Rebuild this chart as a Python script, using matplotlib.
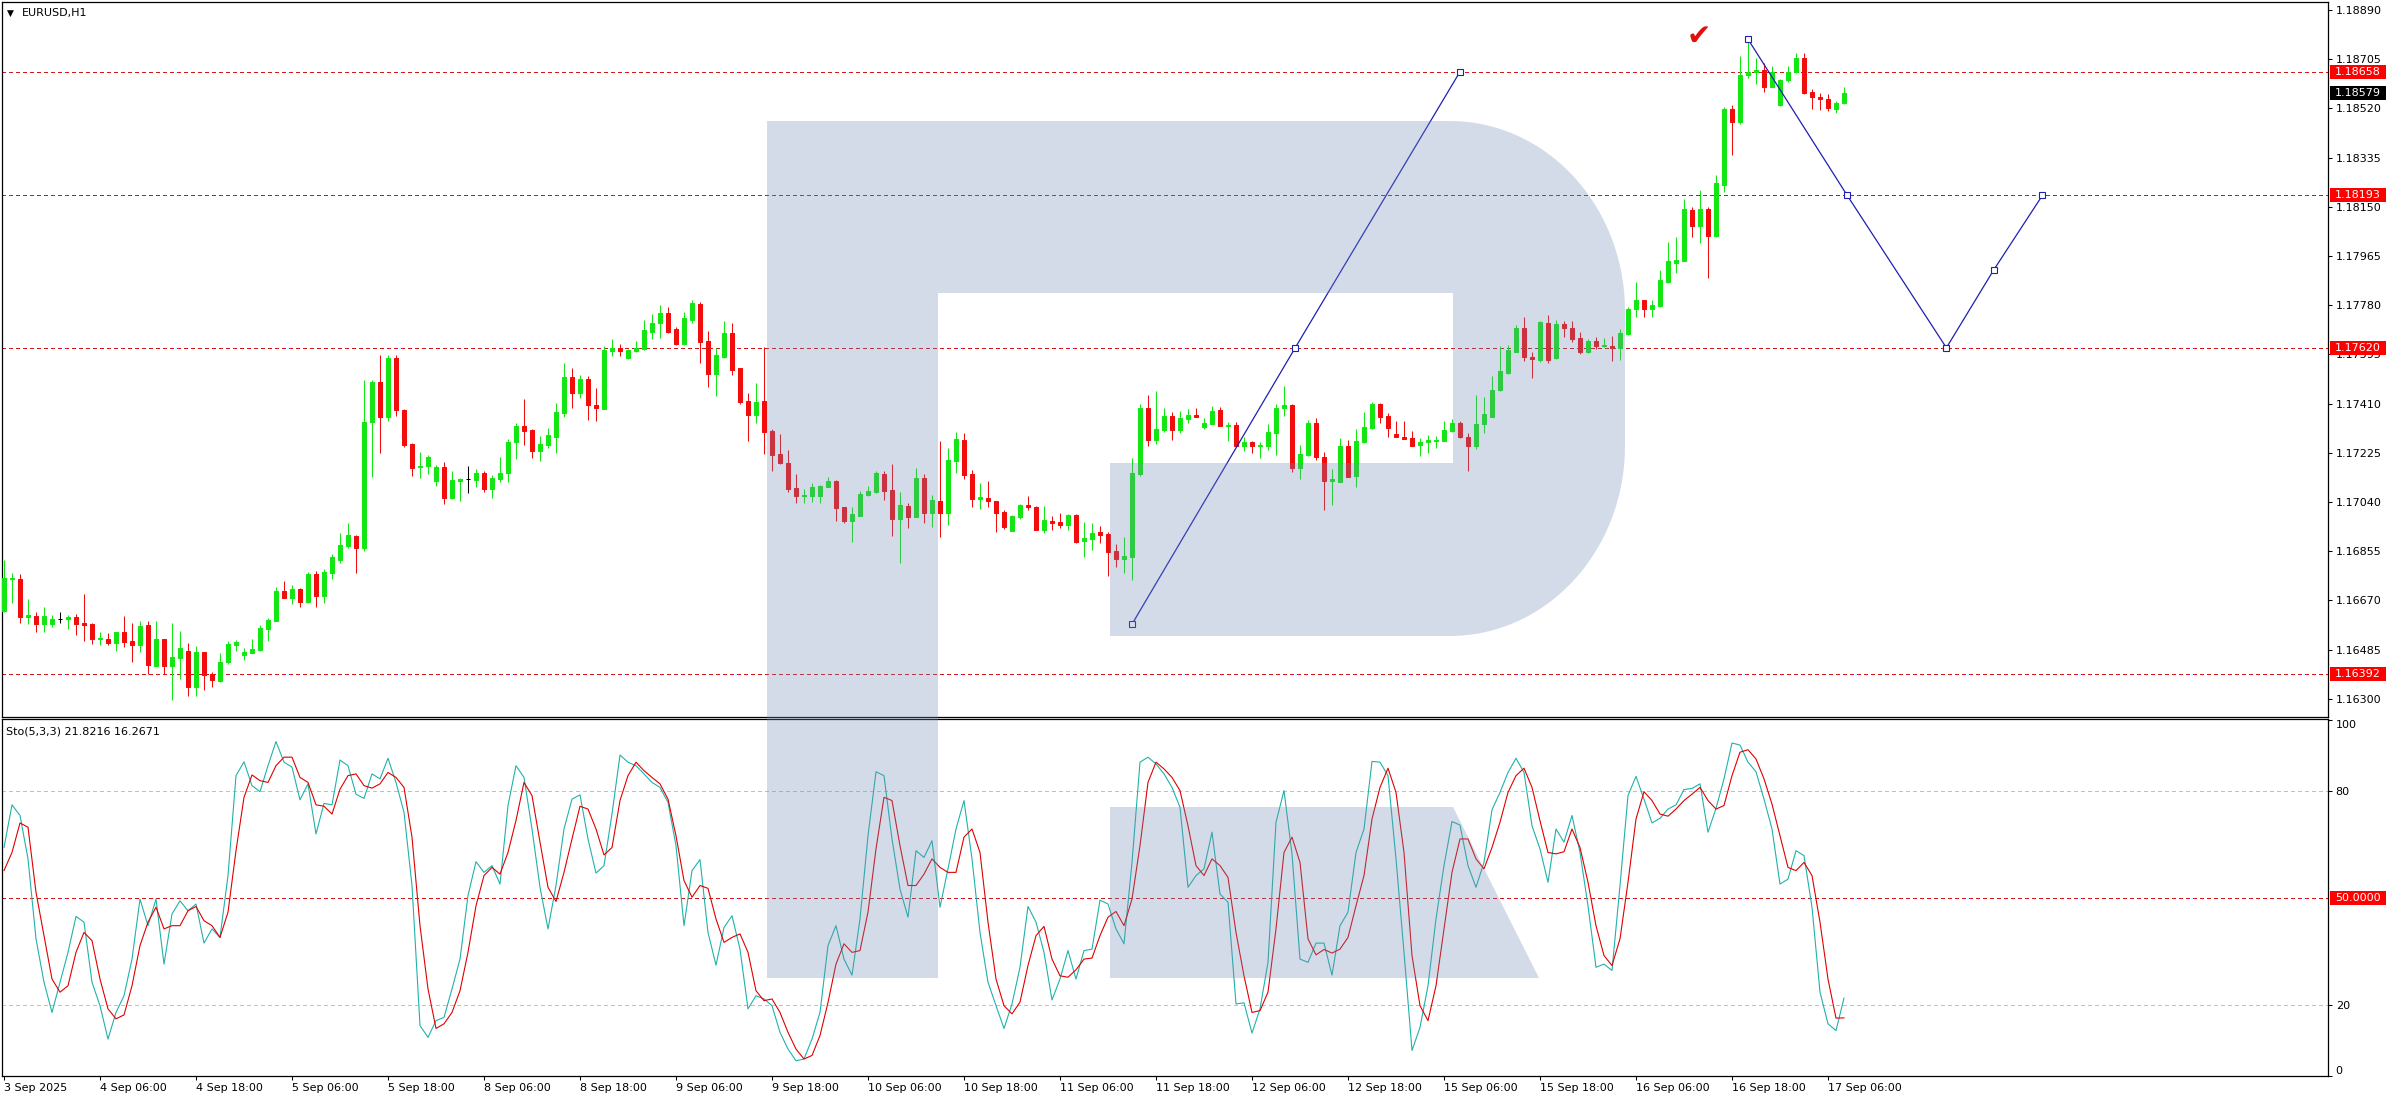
import numpy as np
import matplotlib.pyplot as plt
import matplotlib.transforms as mtransforms
from matplotlib.patches import Rectangle, Polygon

W, H = 2392, 1100

# EURUSD H1 candles, 3 Sep 18:00 .. 17 Sep 08:00
opens = [
    1.16631, 1.16749, 1.16750, 1.16609, 1.16612, 1.16580, 1.16581, 1.16599, 1.16599, 1.16607,
    1.16584, 1.16581, 1.16525, 1.16527, 1.16512, 1.16550, 1.16517, 1.16504, 1.16577, 1.16424,
    1.16525, 1.16424, 1.16454, 1.16479, 1.16343, 1.16476, 1.16394, 1.16367, 1.16437, 1.16504,
    1.16466, 1.16473, 1.16483, 1.16562, 1.16594, 1.16705, 1.16680, 1.16713, 1.16665, 1.16768,
    1.16688, 1.16774, 1.16824, 1.16876, 1.16912, 1.16866, 1.17341, 1.17490, 1.17358, 1.17583,
    1.17386, 1.17258, 1.17170, 1.17177, 1.17120, 1.17173, 1.17054, 1.17120, 1.17125, 1.17123,
    1.17151, 1.17089, 1.17127, 1.17151, 1.17264, 1.17326, 1.17311, 1.17233, 1.17255, 1.17286,
    1.17376, 1.17509, 1.17449, 1.17503, 1.17405, 1.17391, 1.17609, 1.17621, 1.17583, 1.17608,
    1.17616, 1.17681, 1.17712, 1.17752, 1.17690, 1.17634, 1.17725, 1.17785, 1.17646, 1.17522,
    1.17587, 1.17677, 1.17543, 1.17420, 1.17368, 1.17420, 1.17309, 1.17221, 1.17188, 1.17092,
    1.17061, 1.17061, 1.17061, 1.17098, 1.17119, 1.17020, 1.16967, 1.16989, 1.17067, 1.17076,
    1.17146, 1.17086, 1.16977, 1.17025, 1.16985, 1.17130, 1.17000, 1.17044, 1.17000, 1.17195,
    1.17273, 1.17146, 1.17053, 1.17057, 1.17044, 1.17003, 1.16933, 1.16985, 1.17029, 1.17023,
    1.16935, 1.16969, 1.16966, 1.16954, 1.16992, 1.16894, 1.16901, 1.16929, 1.16919, 1.16856,
    1.16826, 1.16835, 1.17146, 1.17392, 1.17273, 1.17311, 1.17364, 1.17311, 1.17351, 1.17367,
    1.17324, 1.17334, 1.17386, 1.17326, 1.17330, 1.17252, 1.17265, 1.17251, 1.17252, 1.17301,
    1.17392, 1.17405, 1.17169, 1.17217, 1.17339, 1.17208, 1.17121, 1.17117, 1.17251, 1.17138,
    1.17267, 1.17317, 1.17409, 1.17364, 1.17296, 1.17286, 1.17280, 1.17255, 1.17264, 1.17270,
    1.17271, 1.17309, 1.17339, 1.17284, 1.17249, 1.17334, 1.17361, 1.17462, 1.17524, 1.17606,
    1.17696, 1.17585, 1.17575, 1.17715, 1.17581, 1.17710, 1.17696, 1.17656, 1.17606, 1.17647,
    1.17625, 1.17627, 1.17618, 1.17672, 1.17765, 1.17798, 1.17765, 1.17778, 1.17869, 1.17940,
    1.17948, 1.18138, 1.18078, 1.18142, 1.18042, 1.18232, 1.18518, 1.18467, 1.18646, 1.18658,
    1.18665, 1.18602, 1.18533, 1.18625, 1.18655, 1.18708, 1.18583, 1.18561, 1.18554, 1.18517,
    1.18539,
]
highs = [
    1.16822, 1.16772, 1.16768, 1.16674, 1.16626, 1.16646, 1.16617, 1.16626, 1.16617, 1.16619,
    1.16694, 1.16584, 1.16552, 1.16546, 1.16552, 1.16612, 1.16584, 1.16592, 1.16594, 1.16592,
    1.16527, 1.16584, 1.16555, 1.16512, 1.16498, 1.16477, 1.16402, 1.16474, 1.16517, 1.16523,
    1.16492, 1.16527, 1.16577, 1.16606, 1.16721, 1.16744, 1.16730, 1.16718, 1.16778, 1.16780,
    1.16788, 1.16844, 1.16925, 1.16962, 1.16916, 1.17499, 1.17499, 1.17593, 1.17593, 1.17593,
    1.17389, 1.17261, 1.17227, 1.17217, 1.17179, 1.17189, 1.17158, 1.17131, 1.17175, 1.17165,
    1.17157, 1.17142, 1.17211, 1.17276, 1.17336, 1.17428, 1.17314, 1.17290, 1.17317, 1.17411,
    1.17562, 1.17543, 1.17518, 1.17515, 1.17468, 1.17627, 1.17653, 1.17634, 1.17614, 1.17646,
    1.17725, 1.17746, 1.17781, 1.17772, 1.17700, 1.17756, 1.17800, 1.17794, 1.17683, 1.17618,
    1.17721, 1.17715, 1.17545, 1.17451, 1.17489, 1.17624, 1.17315, 1.17296, 1.17236, 1.17146,
    1.17088, 1.17113, 1.17104, 1.17136, 1.17123, 1.17023, 1.17023, 1.17083, 1.17101, 1.17157,
    1.17158, 1.17183, 1.17077, 1.17035, 1.17167, 1.17146, 1.17067, 1.17270, 1.17242, 1.17302,
    1.17299, 1.17161, 1.17111, 1.17119, 1.17045, 1.17010, 1.16992, 1.17033, 1.17063, 1.17025,
    1.17025, 1.16988, 1.17000, 1.16994, 1.16994, 1.16964, 1.16960, 1.16950, 1.16929, 1.16883,
    1.16910, 1.17205, 1.17409, 1.17443, 1.17458, 1.17395, 1.17380, 1.17382, 1.17389, 1.17392,
    1.17355, 1.17401, 1.17396, 1.17342, 1.17342, 1.17286, 1.17270, 1.17267, 1.17334, 1.17409,
    1.17476, 1.17408, 1.17255, 1.17349, 1.17355, 1.17230, 1.17164, 1.17280, 1.17273, 1.17315,
    1.17377, 1.17418, 1.17411, 1.17374, 1.17343, 1.17343, 1.17309, 1.17280, 1.17293, 1.17290,
    1.17343, 1.17353, 1.17343, 1.17299, 1.17443, 1.17434, 1.17514, 1.17625, 1.17631, 1.17706,
    1.17735, 1.17606, 1.17722, 1.17744, 1.17725, 1.17722, 1.17721, 1.17681, 1.17652, 1.17660,
    1.17656, 1.17665, 1.17690, 1.17773, 1.17866, 1.17800, 1.17800, 1.17913, 1.18019, 1.18036,
    1.18178, 1.18151, 1.18214, 1.18151, 1.18270, 1.18527, 1.18531, 1.18717, 1.18780, 1.18708,
    1.18690, 1.18680, 1.18630, 1.18680, 1.18727, 1.18727, 1.18592, 1.18577, 1.18574, 1.18546,
    1.18600,
]
lows = [
    1.16627, 1.16661, 1.16584, 1.16580, 1.16552, 1.16552, 1.16571, 1.16584, 1.16561, 1.16542,
    1.16518, 1.16508, 1.16501, 1.16501, 1.16481, 1.16496, 1.16437, 1.16477, 1.16392, 1.16424,
    1.16392, 1.16295, 1.16373, 1.16311, 1.16311, 1.16335, 1.16343, 1.16364, 1.16433, 1.16481,
    1.16446, 1.16473, 1.16481, 1.16517, 1.16592, 1.16680, 1.16656, 1.16646, 1.16661, 1.16646,
    1.16659, 1.16749, 1.16812, 1.16866, 1.16774, 1.16857, 1.17135, 1.17226, 1.17346, 1.17363,
    1.17246, 1.17138, 1.17129, 1.17145, 1.17100, 1.17032, 1.17051, 1.17045, 1.17073, 1.17098,
    1.17078, 1.17057, 1.17117, 1.17117, 1.17202, 1.17255, 1.17205, 1.17195, 1.17245, 1.17226,
    1.17361, 1.17395, 1.17430, 1.17349, 1.17346, 1.17391, 1.17589, 1.17591, 1.17578, 1.17606,
    1.17612, 1.17653, 1.17658, 1.17675, 1.17631, 1.17631, 1.17712, 1.17562, 1.17474, 1.17439,
    1.17583, 1.17518, 1.17409, 1.17270, 1.17336, 1.17221, 1.17155, 1.17183, 1.17079, 1.17038,
    1.17035, 1.17042, 1.17035, 1.17096, 1.16970, 1.16960, 1.16891, 1.16988, 1.17064, 1.17073,
    1.17046, 1.16913, 1.16812, 1.16942, 1.16983, 1.16963, 1.16948, 1.16910, 1.16954, 1.17148,
    1.17127, 1.17023, 1.17014, 1.17023, 1.16929, 1.16939, 1.16931, 1.16975, 1.17010, 1.16935,
    1.16923, 1.16935, 1.16941, 1.16935, 1.16885, 1.16835, 1.16860, 1.16885, 1.16762, 1.16797,
    1.16775, 1.16747, 1.17139, 1.17252, 1.17257, 1.17305, 1.17273, 1.17301, 1.17336, 1.17361,
    1.17314, 1.17332, 1.17327, 1.17271, 1.17251, 1.17233, 1.17226, 1.17207, 1.17236, 1.17217,
    1.17365, 1.17154, 1.17126, 1.17213, 1.17198, 1.17010, 1.17029, 1.17117, 1.17133, 1.17098,
    1.17263, 1.17314, 1.17336, 1.17286, 1.17284, 1.17276, 1.17249, 1.17215, 1.17226, 1.17245,
    1.17268, 1.17305, 1.17280, 1.17158, 1.17239, 1.17299, 1.17361, 1.17459, 1.17522, 1.17606,
    1.17572, 1.17506, 1.17565, 1.17562, 1.17577, 1.17660, 1.17643, 1.17596, 1.17602, 1.17616,
    1.17622, 1.17571, 1.17575, 1.17668, 1.17737, 1.17737, 1.17735, 1.17775, 1.17865, 1.17903,
    1.17947, 1.18038, 1.18013, 1.17882, 1.18038, 1.18207, 1.18345, 1.18462, 1.18633, 1.18611,
    1.18581, 1.18600, 1.18529, 1.18621, 1.18652, 1.18574, 1.18518, 1.18514, 1.18512, 1.18504,
    1.18537,
]
closes = [
    1.16753, 1.16755, 1.16609, 1.16615, 1.16580, 1.16611, 1.16600, 1.16599, 1.16609, 1.16581,
    1.16578, 1.16527, 1.16528, 1.16511, 1.16550, 1.16514, 1.16503, 1.16573, 1.16429, 1.16525,
    1.16424, 1.16456, 1.16493, 1.16345, 1.16476, 1.16389, 1.16370, 1.16437, 1.16508, 1.16514,
    1.16476, 1.16486, 1.16567, 1.16596, 1.16705, 1.16680, 1.16713, 1.16665, 1.16769, 1.16688,
    1.16777, 1.16834, 1.16878, 1.16916, 1.16868, 1.17341, 1.17490, 1.17358, 1.17583, 1.17386,
    1.17254, 1.17167, 1.17175, 1.17210, 1.17173, 1.17054, 1.17123, 1.17125, 1.17125, 1.17151,
    1.17089, 1.17130, 1.17148, 1.17265, 1.17327, 1.17309, 1.17233, 1.17259, 1.17292, 1.17378,
    1.17509, 1.17451, 1.17503, 1.17405, 1.17395, 1.17612, 1.17621, 1.17609, 1.17612, 1.17618,
    1.17687, 1.17715, 1.17752, 1.17681, 1.17634, 1.17733, 1.17790, 1.17643, 1.17522, 1.17593,
    1.17677, 1.17537, 1.17415, 1.17368, 1.17415, 1.17305, 1.17217, 1.17186, 1.17088, 1.17061,
    1.17067, 1.17096, 1.17101, 1.17119, 1.17019, 1.16967, 1.16994, 1.17069, 1.17082, 1.17151,
    1.17083, 1.16975, 1.17029, 1.16985, 1.17130, 1.17000, 1.17048, 1.17000, 1.17198, 1.17277,
    1.17142, 1.17052, 1.17060, 1.17045, 1.17000, 1.16948, 1.16988, 1.17029, 1.17020, 1.16935,
    1.16973, 1.16963, 1.16954, 1.16992, 1.16891, 1.16904, 1.16925, 1.16916, 1.16854, 1.16826,
    1.16837, 1.17148, 1.17392, 1.17273, 1.17314, 1.17364, 1.17311, 1.17355, 1.17367, 1.17361,
    1.17339, 1.17382, 1.17327, 1.17330, 1.17252, 1.17265, 1.17251, 1.17255, 1.17302, 1.17392,
    1.17405, 1.17169, 1.17221, 1.17339, 1.17208, 1.17121, 1.17127, 1.17251, 1.17136, 1.17270,
    1.17321, 1.17409, 1.17361, 1.17317, 1.17286, 1.17279, 1.17251, 1.17265, 1.17274, 1.17274,
    1.17311, 1.17336, 1.17284, 1.17249, 1.17334, 1.17372, 1.17462, 1.17531, 1.17610, 1.17696,
    1.17587, 1.17577, 1.17716, 1.17575, 1.17710, 1.17694, 1.17652, 1.17606, 1.17646, 1.17625,
    1.17630, 1.17618, 1.17675, 1.17765, 1.17798, 1.17765, 1.17781, 1.17873, 1.17948, 1.17950,
    1.18142, 1.18078, 1.18142, 1.18042, 1.18239, 1.18518, 1.18470, 1.18646, 1.18658, 1.18665,
    1.18602, 1.18655, 1.18627, 1.18658, 1.18708, 1.18579, 1.18561, 1.18554, 1.18521, 1.18539,
    1.18579,
]

# Stochastic(5,3,3): main line and signal line
sto_main = [
    64.2, 76.2, 73.2, 61.0, 38.5, 26.3, 17.8, 26.3, 34.7, 44.8,
    43.2, 26.3, 19.7, 10.3, 17.8, 22.5, 32.8, 49.7, 42.2, 49.7,
    31.4, 45.5, 49.2, 46.4, 48.3, 37.3, 41.3, 38.9, 56.3, 84.4,
    88.3, 81.6, 79.9, 87.2, 94.0, 88.2, 86.8, 77.6, 82.1, 68.0,
    76.6, 76.2, 88.8, 87.2, 79.2, 78.0, 84.9, 83.5, 89.3, 82.5,
    74.1, 53.5, 14.1, 10.8, 15.5, 16.4, 24.4, 32.8, 50.7, 60.2,
    57.2, 59.1, 53.9, 76.0, 87.2, 83.9, 69.4, 53.0, 41.3, 53.5,
    69.4, 77.8, 79.0, 66.6, 57.0, 59.1, 73.6, 90.2, 88.2, 87.2,
    84.9, 82.5, 81.1, 76.9, 64.7, 42.2, 57.7, 60.8, 40.3, 31.1,
    41.7, 45.0, 35.6, 18.8, 22.5, 21.6, 19.7, 12.2, 7.5, 4.2,
    4.7, 10.3, 17.8, 36.6, 42.2, 32.8, 28.3, 44.1, 67.5, 85.5,
    84.4, 66.6, 52.5, 44.6, 63.3, 61.4, 66.1, 47.4, 58.2, 69.4,
    77.4, 61.0, 40.3, 26.3, 19.7, 13.3, 20.2, 30.5, 47.6, 43.2,
    34.7, 21.3, 27.2, 35.2, 27.2, 35.2, 35.6, 49.4, 48.3, 41.3,
    37.1, 60.0, 88.2, 89.6, 87.7, 84.9, 81.1, 75.5, 53.0, 56.3,
    58.2, 68.5, 51.1, 48.8, 20.2, 20.5, 12.0, 18.8, 31.9, 71.3,
    80.2, 62.4, 32.8, 31.9, 37.3, 37.3, 28.3, 42.2, 46.0, 62.8,
    69.4, 88.4, 88.2, 84.4, 61.0, 34.7, 7.1, 13.6, 25.3, 44.1,
    59.1, 71.5, 70.5, 59.1, 53.0, 60.0, 74.8, 79.7, 85.3, 89.3,
    85.3, 70.3, 63.8, 54.4, 69.4, 65.7, 73.2, 62.8, 47.8, 30.5,
    31.4, 29.6, 53.5, 78.8, 84.2, 77.8, 71.1, 72.4, 75.0, 76.2,
    80.5, 80.8, 82.1, 68.5, 75.2, 83.5, 93.6, 93.0, 88.2, 85.5,
    77.8, 69.4, 53.9, 55.3, 63.3, 61.9, 47.4, 23.5, 14.6, 12.7,
    21.82,
]
sto_signal = [
    57.7, 62.8, 71.1, 69.9, 51.6, 39.4, 27.2, 23.5, 25.3, 34.7,
    40.3, 38.0, 27.2, 18.8, 16.0, 17.1, 25.3, 36.6, 43.2, 47.4,
    41.3, 42.2, 42.2, 46.4, 47.6, 43.6, 42.2, 38.9, 46.0, 63.3,
    78.3, 84.6, 83.0, 82.5, 87.2, 89.6, 89.6, 83.9, 82.5, 76.2,
    75.8, 73.6, 80.6, 84.4, 84.9, 81.6, 80.9, 82.1, 85.3, 83.9,
    81.1, 67.1, 42.2, 24.4, 13.3, 14.6, 17.8, 23.9, 34.7, 47.8,
    56.3, 58.6, 56.7, 62.8, 71.8, 82.5, 78.8, 65.7, 53.0, 49.0,
    57.2, 66.6, 75.8, 75.0, 69.4, 62.1, 64.2, 77.4, 84.4, 88.2,
    85.8, 83.9, 82.1, 77.8, 67.5, 54.9, 50.2, 53.5, 52.7, 44.1,
    37.5, 38.9, 39.9, 34.7, 23.9, 21.1, 21.6, 17.8, 12.2, 7.5,
    4.7, 5.7, 11.3, 20.6, 31.4, 37.1, 34.7, 35.2, 46.0, 63.8,
    78.3, 77.4, 64.7, 53.5, 53.5, 56.7, 61.0, 58.6, 57.2, 57.2,
    67.1, 69.4, 62.8, 43.2, 27.2, 19.7, 17.4, 20.7, 31.0, 39.4,
    42.0, 32.8, 28.1, 27.7, 29.8, 32.8, 33.1, 39.4, 44.6, 46.2,
    42.2, 49.7, 64.7, 82.5, 88.2, 86.3, 83.9, 80.2, 70.3, 59.1,
    56.3, 61.0, 59.1, 55.8, 40.3, 28.1, 17.8, 18.3, 23.5, 41.3,
    62.8, 67.1, 60.0, 38.5, 34.0, 35.5, 34.5, 35.6, 38.9, 47.8,
    56.3, 72.2, 81.1, 86.5, 79.7, 62.8, 33.8, 19.7, 15.5, 25.3,
    41.3, 57.2, 66.6, 66.6, 61.0, 58.2, 64.2, 71.3, 79.7, 84.4,
    86.5, 81.1, 71.7, 62.8, 62.4, 63.0, 69.4, 64.2, 54.4, 42.2,
    33.8, 31.0, 38.5, 54.4, 72.2, 79.9, 77.4, 73.6, 73.0, 75.0,
    77.4, 79.2, 81.1, 77.4, 75.0, 76.0, 84.4, 91.0, 91.7, 89.1,
    83.5, 76.4, 67.5, 58.6, 57.7, 60.0, 56.3, 43.2, 27.2, 16.2,
    16.27,
]

time_labels = ['3 Sep 2025', '4 Sep 06:00', '4 Sep 18:00', '5 Sep 06:00', '5 Sep 18:00',
               '8 Sep 06:00', '8 Sep 18:00', '9 Sep 06:00', '9 Sep 18:00', '10 Sep 06:00',
               '10 Sep 18:00', '11 Sep 06:00', '11 Sep 18:00', '12 Sep 06:00', '12 Sep 18:00',
               '15 Sep 06:00', '15 Sep 18:00', '16 Sep 06:00', '16 Sep 18:00', '17 Sep 06:00']
bars_per_label = 12

price_ticks = [1.16300, 1.16485, 1.16670, 1.16855, 1.17040, 1.17225, 1.17410, 1.17595,
               1.17780, 1.17965, 1.18150, 1.18335, 1.18520, 1.18705, 1.18890]
levels = [1.18658, 1.18193, 1.17620, 1.16392]
last_price = 1.18579

# forecast path drawn on the chart (bar index, price)
path1_x = [141, 161.4, 182]
path1_y = [1.16581, 1.17620, 1.18658]
path2_x = [218, 230.4, 242.8, 248.7, 254.8]
path2_y = [1.18780, 1.18193, 1.17620, 1.17912, 1.18193]

sto_levels = [80, 20]
sto_mid = 50

bull, bear, doji = '#13e613', '#f20d0d', '#000000'
red_dash = '#d01818'
blue = '#1f1fb4'

fig = plt.figure(figsize=(W / 100, H / 100), dpi=100)
fig.patch.set_facecolor('white')


def frame(left, top, right, bottom):
    return [left / W, 1 - bottom / H, (right - left) / W, (bottom - top) / H]


ax = fig.add_axes(frame(2, 2, 2328, 717))
ax2 = fig.add_axes(frame(2, 719, 2328, 1076))
for a in (ax, ax2):
    a.set_xlim(-0.25, 290.5)
    for s in a.spines.values():
        s.set_linewidth(0.9)
ax.set_ylim(1.16232, 1.18920)
ax2.set_ylim(-0.08, 100.34)

# candles
o, h, l, c = map(np.array, (opens, highs, lows, closes))
x = np.arange(len(o))
cols = [bull if cc > oo else bear if cc < oo else doji for oo, cc in zip(o, c)]
ax.vlines(x, l, h, colors=cols, linewidth=0.75, zorder=3)
ax.bar(x, c - o, bottom=o, width=0.5, color=cols, edgecolor=cols, linewidth=0.75, zorder=4)

dash_kw = dict(linestyle=(0, (3, 3)), linewidth=0.8, antialiased=False, zorder=2)
for lv in levels:
    ax.axhline(lv, color=red_dash, **dash_kw)

for px_, py_ in ((path1_x, path1_y), (path2_x, path2_y)):
    ax.plot(px_, py_, color=blue, linewidth=0.9, marker='s', markersize=4,
            markerfacecolor='white', markeredgecolor=blue, markeredgewidth=0.8, zorder=5)

ax.text(211.8, 1.18790, '\u2714', color='#e01010', fontsize=21, ha='center', va='center', zorder=6)

ax.yaxis.tick_right()
ax.set_yticks(price_ticks)
ax.set_yticklabels([f'{p:.5f}' for p in price_ticks])
ax.tick_params(axis='y', length=3, width=0.75, labelsize=8, pad=2.5)
ax.tick_params(axis='x', bottom=False, labelbottom=False)

# stochastic panel
ax2.plot(x, sto_main, color='#20b2aa', linewidth=0.8, zorder=4)
ax2.plot(x, sto_signal, color='#e00000', linewidth=0.8, zorder=5)
for lv in sto_levels:
    ax2.axhline(lv, color='#c0c0c0', **dash_kw)
ax2.axhline(sto_mid, color=red_dash, **dash_kw)

ax2.yaxis.tick_right()
ax2.set_yticks([0, 20, 80, 100])
ylabs = ax2.set_yticklabels(['0', '20', '80', '100'])
ylabs[0].set_va('bottom')
ylabs[-1].set_va('top')
ax2.tick_params(axis='y', length=3, width=0.75, labelsize=8, pad=2.5)

ax2.set_xticks(np.arange(len(time_labels)) * bars_per_label)
ax2.set_xticklabels(time_labels, ha='left')
ax2.tick_params(axis='x', length=3, width=0.75, labelsize=8, pad=2)


def tag(axis, value, text, face, px_per_unit):
    tr = mtransforms.blended_transform_factory(axis.transAxes, axis.transData)
    hh = 14 / px_per_unit
    axis.add_patch(Rectangle((1.0009, value - hh / 2), 0.0241, hh, transform=tr,
                             facecolor=face, edgecolor='none', clip_on=False, zorder=10))
    axis.text(1.0031, value, text, transform=tr, color='white', fontsize=8,
              ha='left', va='center', clip_on=False, zorder=11)


main_ppu = 715 / (1.18920 - 1.16232)
sto_ppu = 357 / (100.34 + 0.08)
for lv in levels:
    tag(ax, lv, f'{lv:.5f}', '#ff0000', main_ppu)
tag(ax, last_price, f'{last_price:.5f}', '#000000', main_ppu)
tag(ax2, sto_mid, f'{sto_mid:.4f}', '#ff0000', sto_ppu)

fig.text(7 / W, 1 - 13 / H, '\u25bc', fontsize=6.5, va='center')
fig.text(22 / W, 1 - 13 / H, 'EURUSD,H1', fontsize=8, va='center')
fig.text(6 / W, 1 - 731 / H, 'Sto(5,3,3) 21.8216 16.2671', fontsize=8, va='center')

# translucent "R" watermark laid over both panels
ov = fig.add_axes([0, 0, 1, 1], zorder=10)
ov.set_xlim(0, W)
ov.set_ylim(H, 0)
ov.axis('off')
logo_kw = dict(facecolor='#6c8ab2', edgecolor='none', alpha=0.3)
ov.add_patch(Polygon([(767, 121), (938, 121), (938, 978), (767, 978)], **logo_kw))
t1 = np.linspace(-np.pi / 2, 0, 40)
t2 = np.linspace(0, np.pi / 2, 40)
bowl = [(938, 121)]
bowl += list(zip(1450 + 175 * np.cos(t1), 311 + 190 * np.sin(t1)))
bowl += list(zip(1450 + 175 * np.cos(t2), 446 + 190 * np.sin(t2)))
bowl += [(1110, 636), (1110, 463), (1453, 463), (1453, 293), (938, 293)]
ov.add_patch(Polygon(bowl, **logo_kw))
ov.add_patch(Polygon([(1110, 807), (1453, 807), (1539, 978), (1110, 978)], **logo_kw))

fig.savefig('out.png', dpi=100)
